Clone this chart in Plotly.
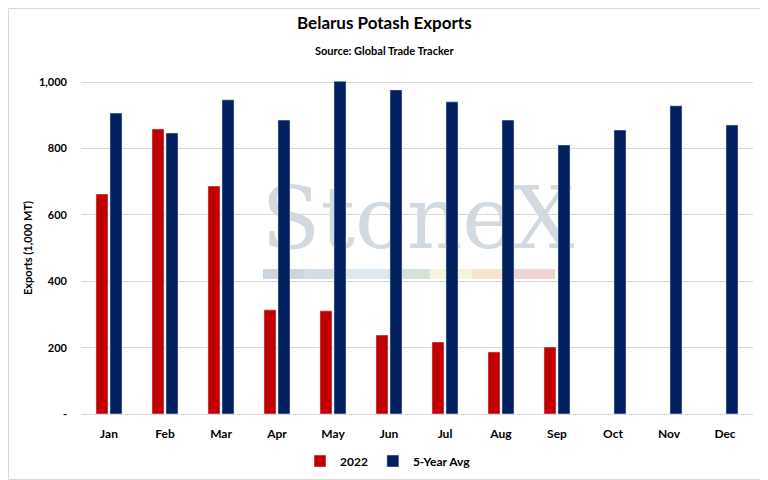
import plotly.graph_objs as go

months = ['Jan', 'Feb', 'Mar', 'Apr', 'May', 'Jun', 'Jul', 'Aug', 'Sep', 'Oct', 'Nov', 'Dec']
exports_2022 = [663, 859, 687, 314, 311, 238, 217, 187, 202, None, None, None]
five_year_avg = [907, 847, 947, 886, 1003, 977, 941, 886, 811, 856, 929, 871]

y_ticks = [0, 200, 400, 600, 800, 1000]
y_tick_text = ['-', '200', '400', '600', '800', '1,000']

# faint watermark stripe colours
stripe_colors = ['#CDD5DE', '#D3DCE6', '#DCE9F2', '#D3E3D9', '#F6F5DC', '#F7E5CE', '#EFD3D3']

FONT = 'Lato'
# the page puts the figure 8px in from the top-left, so draw it 8px smaller
OFF = 8
W, H = 768 - OFF, 480 - OFF

# positions below are given in screen pixels; paper == whole figure (no margins)
def px_x(p):
    return (p - OFF) / W

def px_y(p):
    return (H - (p - OFF)) / H

fig = go.Figure()
fig.add_trace(go.Bar(x=months, y=exports_2022, name='2022', marker_color='#C00000'))
fig.add_trace(go.Bar(x=months, y=five_year_avg, name='5-Year Avg', marker_color='#002060'))

shapes = []
# StoneX watermark, drawn under the bars
shapes.append(dict(
    type='rect', layer='below', xref='paper', yref='paper',
    x0=px_x(258), x1=px_x(578), y0=px_y(251), y1=px_y(173),
    line=dict(width=0), fillcolor='rgba(0,0,0,0)',
    label=dict(text='StoneX', textposition='middle center',
               font=dict(family='DejaVu Serif', size=86, color='#D2D9E1')),
))
seg = (555 - 263) / len(stripe_colors)
for i, c in enumerate(stripe_colors):
    shapes.append(dict(
        type='rect', layer='below', xref='paper', yref='paper',
        x0=px_x(263 + i * seg), x1=px_x(263 + (i + 1) * seg),
        y0=px_y(279), y1=px_y(269),
        line=dict(width=0), fillcolor=c,
    ))
# outer border (right and bottom edges fall inside the figure)
shapes.append(dict(
    type='rect', xref='paper', yref='paper',
    x0=px_x(8.5), x1=px_x(767.5), y0=px_y(479.5), y1=px_y(8.5),
    line=dict(color='#D9D9D9', width=1), fillcolor='rgba(0,0,0,0)',
))

tick_font = dict(family=FONT, size=11, color='#000000', weight='bold')

fig.update_layout(
    width=W, height=H,
    margin=dict(l=0, r=0, t=0, b=0),
    paper_bgcolor='white', plot_bgcolor='white',
    font=dict(family=FONT, size=11, color='#000000'),
    bargap=0.5, bargroupgap=0.14,
    showlegend=True,
    legend=dict(orientation='h', x=px_x(300), xanchor='left', y=px_y(461), yanchor='middle',
                font=dict(family=FONT, size=12, color='#000000', weight='bold'), itemwidth=30,
                traceorder='normal', bgcolor='rgba(0,0,0,0)'),
    shapes=shapes,
    annotations=[
        dict(text='<b>Belarus Potash Exports</b>', xref='paper', yref='paper',
             x=px_x(384), y=px_y(22), xanchor='center', yanchor='middle', showarrow=False,
             font=dict(family=FONT, size=17, color='#000000')),
        dict(text='<b>Source: Global Trade Tracker</b>', xref='paper', yref='paper',
             x=px_x(384), y=px_y(51), xanchor='center', yanchor='middle', showarrow=False,
             font=dict(family=FONT, size=11, color='#000000')),
        dict(text='<b>Exports (1,000 MT)</b>', xref='paper', yref='paper',
             x=px_x(27), y=px_y(248), xanchor='center', yanchor='middle', showarrow=False,
             textangle=-90, font=dict(family=FONT, size=11, color='#000000')),
    ],
)

fig.update_xaxes(
    domain=[px_x(81), px_x(753)], automargin=False,
    showline=True, linecolor='#D9D9D9', linewidth=1,
    ticks='', tickfont=dict(tick_font, size=12),
    ticklabelstandoff=9,
)
fig.update_yaxes(
    domain=[px_y(414), px_y(80.6)], automargin=False,
    range=[0, 1005], tickvals=y_ticks, ticktext=y_tick_text,
    showgrid=True, gridcolor='#D9D9D9', gridwidth=1,
    zeroline=False, showline=False,
    tickfont=tick_font,
    ticklabelstandoff=13,
)

fig.write_html("out.html")
